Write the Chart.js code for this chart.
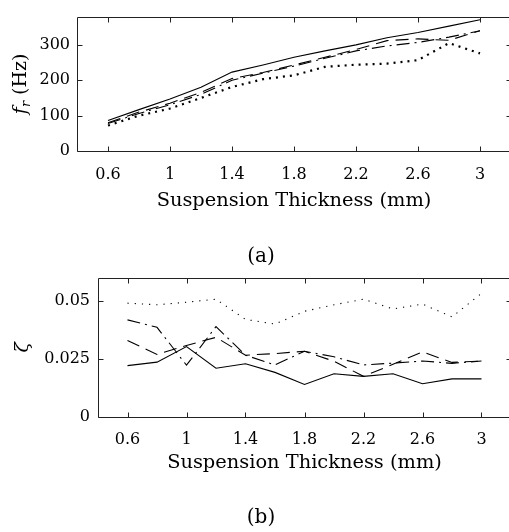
<!DOCTYPE html>
<html><head><meta charset="utf-8">
<script src="https://cdn.jsdelivr.net/npm/chart.js@4/dist/chart.umd.min.js"></script>
<style>
html,body{margin:0;padding:0;background:#fff;width:509px;height:532px;overflow:hidden;position:relative}
canvas{position:absolute;left:0}
#c1{top:0;width:530px;height:215px}
#c2{top:260px;width:530px;height:215px}
.cap{position:absolute;font-family:"DejaVu Serif";font-size:20px;color:#000;transform:translate(-50%,-50%);white-space:nowrap}
</style></head><body>
<canvas id="c1" width="530" height="215"></canvas>
<canvas id="c2" width="530" height="215"></canvas>
<div class="cap" style="left:261px;top:255px">(a)</div>
<div class="cap" style="left:261px;top:516px">(b)</div>
<script>
// ---- data ----
const thickness = [0.6, 0.8, 1.0, 1.2, 1.4, 1.6, 1.8, 2.0, 2.2, 2.4, 2.6, 2.8, 3.0];
const xTicks = [0.6, 1, 1.4, 1.8, 2.2, 2.6, 3];

const freqSolid   = [86, 117, 147, 180, 223, 243, 265, 283, 300, 320, 335, 353, 371];
const freqDashed  = [80, 110, 135, 166, 205, 222, 243, 265, 287, 312, 317, 313, 340];
const freqDashDot = [78, 106, 131, 160, 200, 220, 240, 262, 283, 297, 307, 322, 340];
const freqDotted  = [72, 100, 120, 150, 181, 203, 214, 238, 244, 247, 257, 305, 276];
const freqTicks = [0, 100, 200, 300];

const dampSolid   = [0.0221, 0.0236, 0.0303, 0.0210, 0.0229, 0.0192, 0.0140, 0.0186, 0.0175, 0.0186, 0.0143, 0.0164, 0.0164];
const dampDashed  = [0.0329, 0.0269, 0.0308, 0.0343, 0.0266, 0.0273, 0.0283, 0.0240, 0.0175, 0.0227, 0.0280, 0.0235, 0.0241];
const dampDashDot = [0.0418, 0.0386, 0.0223, 0.0389, 0.0266, 0.0224, 0.0283, 0.0259, 0.0224, 0.0232, 0.0241, 0.0231, 0.0241];
const dampDotted  = [0.0490, 0.0483, 0.0494, 0.0507, 0.0420, 0.0400, 0.0455, 0.0483, 0.0507, 0.0465, 0.0486, 0.0431, 0.0532];
const dampTicks = [0, 0.025, 0.05];
const dampTickLabels = ['0', '0.025', '0.05'];

const xTitle = 'Suspension Thickness (mm)';
const yTitleTopMain = 'f';
const yTitleTopSub = 'r';
const yTitleTopUnit = '(Hz)';
const yTitleBottom = 'ζ';

// ---- style ----
const FONT = 'DejaVu Serif';
const INK = '#000';
const AXIS = '#222';
const TL = 5;

const boxTicks = {
  id: 'boxTicks',
  afterDraw(chart) {
    const {ctx, chartArea: a, scales} = chart;
    const L = Math.round(a.left) + 0.5, R = Math.round(a.right) + 0.5;
    const T = Math.round(a.top) + 0.5, B = Math.round(a.bottom) + 0.5;
    ctx.save();
    ctx.strokeStyle = AXIS; ctx.lineWidth = 1;
    ctx.beginPath();
    ctx.rect(L, T, R - L, B - T);
    scales.x.ticks.forEach(t => {
      const p = Math.round(scales.x.getPixelForValue(t.value)) + 0.5;
      ctx.moveTo(p, B); ctx.lineTo(p, B - TL);
      ctx.moveTo(p, T); ctx.lineTo(p, T + TL);
    });
    scales.y.ticks.forEach(t => {
      const p = Math.round(scales.y.getPixelForValue(t.value)) + 0.5;
      ctx.moveTo(L, p); ctx.lineTo(L + TL, p);
      ctx.moveTo(R, p); ctx.lineTo(R - TL, p);
    });
    ctx.stroke();
    ctx.restore();
  }
};

const yTitlePlugin = {
  id: 'yTitle',
  afterDraw(chart, args, opts) {
    const {ctx, chartArea: a} = chart;
    const cy = (a.top + a.bottom) / 2;
    ctx.save();
    ctx.translate(opts.x, cy);
    ctx.rotate(-Math.PI / 2);
    ctx.fillStyle = INK;
    ctx.textBaseline = 'alphabetic';
    const mainFont = 'italic 19px "' + FONT + '"';
    const subFont = 'italic 13px "' + FONT + '"';
    const unitFont = '19px "' + FONT + '"';
    ctx.font = mainFont; const w1 = ctx.measureText(opts.main).width;
    let w2 = 0, w3 = 0, sp = 0;
    if (opts.sub) { ctx.font = subFont; w2 = ctx.measureText(opts.sub).width; }
    if (opts.unit) { ctx.font = unitFont; w3 = ctx.measureText(opts.unit).width; sp = 6; }
    const total = w1 + w2 + sp + w3;
    let x = -total / 2;
    const base = 6;
    ctx.font = mainFont; ctx.fillText(opts.main, x, base); x += w1;
    if (opts.sub) { ctx.font = subFont; ctx.fillText(opts.sub, x, base + 4); x += w2; }
    if (opts.unit) { x += sp; ctx.font = unitFont; ctx.fillText(opts.unit, x, base); }
    ctx.restore();
  }
};

function ds(values, dash, width) {
  return {
    data: thickness.map((x, i) => ({x: x, y: values[i]})),
    borderColor: INK, borderWidth: width || 1.1, borderDash: dash,
    pointRadius: 0, tension: 0, fill: false
  };
}

function makeChart(id, datasets, cfg) {
  return new Chart(document.getElementById(id), {
    type: 'line',
    data: {datasets: datasets},
    plugins: [boxTicks, yTitlePlugin],
    options: {
      responsive: false, animation: false, devicePixelRatio: 1,
      layout: {padding: {top: cfg.padTop, right: 19, left: 0, bottom: cfg.padBottom}},
      plugins: {legend: {display: false}, tooltip: {enabled: false},
        yTitle: cfg.yTitle},
      scales: {
        x: {
          type: 'linear', min: 0.4, max: 3.2,
          grid: {display: false, drawTicks: false}, border: {display: false},
          afterBuildTicks: s => { s.ticks = xTicks.map(v => ({value: v})); },
          afterFit: s => { s.height = cfg.xHeight; },
          ticks: {color: INK, font: {family: FONT, size: 16}, padding: cfg.xPad, maxRotation: 0,
            callback: v => String(v)},
          title: {display: true, text: xTitle, color: INK, font: {family: FONT, size: 19.4},
            padding: {top: 0, bottom: 0}}
        },
        y: {
          type: 'linear', min: cfg.yMin, max: cfg.yMax,
          grid: {display: false, drawTicks: false}, border: {display: false},
          afterBuildTicks: s => { s.ticks = cfg.yTicks.map(v => ({value: v})); },
          afterFit: s => { s.width = cfg.yWidth; },
          ticks: {color: INK, font: {family: FONT, size: 16}, padding: cfg.yPad,
            callback: cfg.yLabel}
        }
      }
    }
  });
}

makeChart('c1', [
  ds(freqSolid, []),
  ds(freqDashed, [13, 7]),
  ds(freqDashDot, [13, 5, 2, 5]),
  ds(freqDotted, [2, 5], 2.2)
], {
  padTop: 9, padBottom: 2, xHeight: 62, yWidth: 77, yPad: 7, xPad: 14,
  yMin: 0, yMax: 380, yTicks: freqTicks, yLabel: v => String(v),
  yTitle: {x: 20, main: yTitleTopMain, sub: yTitleTopSub, unit: yTitleTopUnit}
});

makeChart('c2', [
  ds(dampSolid, []),
  ds(dampDashed, [13, 7]),
  ds(dampDashDot, [13, 5, 2, 5]),
  ds(dampDotted, [1.2, 6], 1.1)
], {
  padTop: 14, padBottom: 0, xHeight: 58, yWidth: 98, yPad: 8, xPad: 13,
  yMin: 0, yMax: 0.06, yTicks: dampTicks,
  yLabel: v => { const i = dampTicks.indexOf(v); return i >= 0 ? dampTickLabels[i] : ''; },
  yTitle: {x: 22, main: yTitleBottom}
});
</script>
</body></html>
